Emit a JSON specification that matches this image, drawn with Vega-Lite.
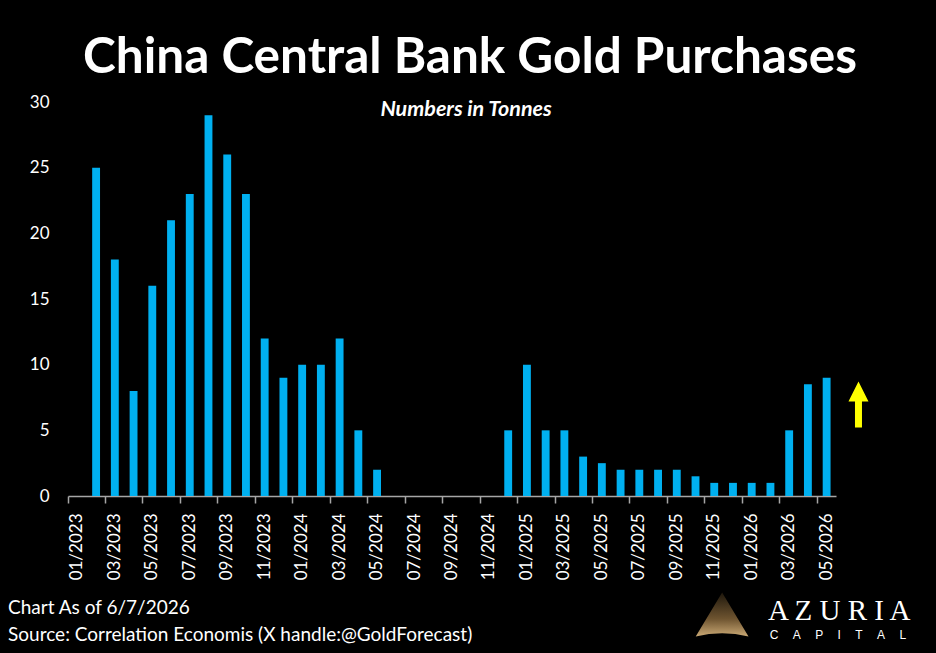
{
  "$schema": "https://vega.github.io/schema/vega-lite/v6.json",
  "autosize": "none",
  "width": 768,
  "height": 394,
  "padding": {"left": 68, "top": 102, "right": 100, "bottom": 157},
  "background": "black",
  "config": {"view": {"stroke": null}, "font": "Lato"},
  "title": {
    "text": "China Central Bank Gold Purchases",
    "font": "Lato",
    "fontSize": 49.5,
    "fontWeight": "bold",
    "color": "white",
    "anchor": "middle",
    "frame": "group",
    "dx": 18,
    "offset": 10
  },
  "datasets": {
    "purchases": [
      {"month": "01/2023", "tonnes": 0},
      {"month": "02/2023", "tonnes": 25},
      {"month": "03/2023", "tonnes": 18},
      {"month": "04/2023", "tonnes": 8},
      {"month": "05/2023", "tonnes": 16},
      {"month": "06/2023", "tonnes": 21},
      {"month": "07/2023", "tonnes": 23},
      {"month": "08/2023", "tonnes": 29},
      {"month": "09/2023", "tonnes": 26},
      {"month": "10/2023", "tonnes": 23},
      {"month": "11/2023", "tonnes": 12},
      {"month": "12/2023", "tonnes": 9},
      {"month": "01/2024", "tonnes": 10},
      {"month": "02/2024", "tonnes": 10},
      {"month": "03/2024", "tonnes": 12},
      {"month": "04/2024", "tonnes": 5},
      {"month": "05/2024", "tonnes": 2},
      {"month": "06/2024", "tonnes": 0},
      {"month": "07/2024", "tonnes": 0},
      {"month": "08/2024", "tonnes": 0},
      {"month": "09/2024", "tonnes": 0},
      {"month": "10/2024", "tonnes": 0},
      {"month": "11/2024", "tonnes": 0},
      {"month": "12/2024", "tonnes": 5},
      {"month": "01/2025", "tonnes": 10},
      {"month": "02/2025", "tonnes": 5},
      {"month": "03/2025", "tonnes": 5},
      {"month": "04/2025", "tonnes": 3},
      {"month": "05/2025", "tonnes": 2.5},
      {"month": "06/2025", "tonnes": 2},
      {"month": "07/2025", "tonnes": 2},
      {"month": "08/2025", "tonnes": 2},
      {"month": "09/2025", "tonnes": 2},
      {"month": "10/2025", "tonnes": 1.5},
      {"month": "11/2025", "tonnes": 1},
      {"month": "12/2025", "tonnes": 1},
      {"month": "01/2026", "tonnes": 1},
      {"month": "02/2026", "tonnes": 1},
      {"month": "03/2026", "tonnes": 5},
      {"month": "04/2026", "tonnes": 8.5},
      {"month": "05/2026", "tonnes": 9}
    ]
  },
  "layer": [
    {
      "data": {"name": "purchases"},
      "mark": {"type": "bar", "color": "#00B0F0", "width": {"band": 0.42}},
      "encoding": {
        "x": {
          "field": "month",
          "type": "ordinal",
          "sort": null,
          "scale": {"paddingInner": 0, "paddingOuter": 0},
          "axis": {
            "orient": "bottom",
            "title": null,
            "values": ["01/2023", "03/2023", "05/2023", "07/2023", "09/2023", "11/2023", "01/2024", "03/2024", "05/2024", "07/2024", "09/2024", "11/2024", "01/2025", "03/2025", "05/2025", "07/2025", "09/2025", "11/2025", "01/2026", "03/2026", "05/2026"],
            "ticks": false,
            "domain": false,
            "labelAngle": -90,
            "labelAlign": "right",
            "labelBaseline": "middle",
            "labelPadding": 17,
            "labelFontSize": 17,
            "labelColor": "white",
            "labelFont": "Lato"
          }
        },
        "y": {
          "field": "tonnes",
          "type": "quantitative",
          "scale": {"domain": [0, 30]},
          "axis": {
            "orient": "left",
            "title": null,
            "values": [0, 5, 10, 15, 20, 25, 30],
            "grid": false,
            "ticks": false,
            "domain": false,
            "labelPadding": 19,
            "labelFontSize": 17,
            "labelColor": "white",
            "labelFont": "Lato"
          }
        }
      }
    },
    {
      "data": {"name": "purchases"},
      "mark": {"type": "bar", "opacity": 0, "width": {"band": 0.42}},
      "encoding": {
        "x": {
          "field": "month",
          "type": "ordinal",
          "sort": null,
          "scale": {"paddingInner": 0, "paddingOuter": 0},
          "axis": {
            "orient": "bottom",
            "title": null,
            "values": ["01/2023", "03/2023", "05/2023", "07/2023", "09/2023", "11/2023", "01/2024", "03/2024", "05/2024", "07/2024", "09/2024", "11/2024", "01/2025", "03/2025", "05/2025", "07/2025", "09/2025", "11/2025", "01/2026", "03/2026", "05/2026"],
            "labels": false,
            "bandPosition": 0,
            "ticks": true,
            "tickSize": 7,
            "tickWidth": 1.5,
            "tickColor": "#A6A6A6",
            "domain": true,
            "domainColor": "#A6A6A6",
            "domainWidth": 1.5
          }
        },
        "y": {
          "field": "tonnes",
          "type": "quantitative",
          "scale": {"domain": [0, 30]},
          "axis": null
        }
      }
    },
    {
      "data": {"values": [{"label": "Numbers in Tonnes", "pos": 21.25, "val": 29.4}]},
      "mark": {"type": "text", "font": "Lato", "fontSize": 21.5, "fontWeight": "bold", "fontStyle": "italic", "color": "white", "align": "center", "baseline": "middle"},
      "encoding": {
        "x": {"field": "pos", "type": "quantitative", "scale": {"domain": [0, 41]}, "axis": null},
        "y": {"field": "val", "type": "quantitative", "scale": {"domain": [0, 30]}, "axis": null},
        "text": {"field": "label"}
      }
    },
    {
      "data": {"values": [
        {"label": "Chart As of 6/7/2026", "pos": -3.2, "val": -8.49},
        {"label": "Source: Correlation Economis (X handle:@GoldForecast)", "pos": -3.2, "val": -10.6}
      ]},
      "mark": {"type": "text", "font": "Lato", "fontSize": 19, "color": "white", "align": "left", "baseline": "middle"},
      "encoding": {
        "x": {"field": "pos", "type": "quantitative", "scale": {"domain": [0, 41]}, "axis": null},
        "y": {"field": "val", "type": "quantitative", "scale": {"domain": [0, 30]}, "axis": null},
        "text": {"field": "label"}
      }
    },
    {
      "data": {"values": [{"label": "A Z U R I A", "pos": 41.17, "val": -8.79}]},
      "mark": {"type": "text", "font": "Liberation Serif", "fontSize": 29, "color": "white", "align": "center", "baseline": "middle"},
      "encoding": {
        "x": {"field": "pos", "type": "quantitative", "scale": {"domain": [0, 41]}, "axis": null},
        "y": {"field": "val", "type": "quantitative", "scale": {"domain": [0, 30]}, "axis": null},
        "text": {"field": "label"}
      }
    },
    {
      "data": {"values": [{"label": "C\u2003\u2009A\u2003\u2009P\u2003\u2009I\u2003\u2009T\u2003\u2009A\u2003\u2009L", "pos": 41.1, "val": -10.6}]},
      "mark": {"type": "text", "font": "Liberation Sans", "fontSize": 12, "color": "white", "align": "center", "baseline": "middle"},
      "encoding": {
        "x": {"field": "pos", "type": "quantitative", "scale": {"domain": [0, 41]}, "axis": null},
        "y": {"field": "val", "type": "quantitative", "scale": {"domain": [0, 30]}, "axis": null},
        "text": {"field": "label"}
      }
    },
    {
      "data": {"values": [{"item": "logo", "pos": 34.92, "val": -9.02}]},
      "mark": {
        "type": "point",
        "filled": true,
        "size": 1936,
        "shape": "M0,-1L-1.2,1Q0,0.7 1.2,1Z",
        "strokeWidth": 0,
        "opacity": 1,
        "color": {
          "gradient": "linear",
          "x1": 0, "y1": 0, "x2": 0, "y2": 1,
          "stops": [
            {"offset": 0, "color": "#1e170c"},
            {"offset": 0.6, "color": "#6e5430"},
            {"offset": 1, "color": "#c9a874"}
          ]
        }
      },
      "encoding": {
        "x": {"field": "pos", "type": "quantitative", "scale": {"domain": [0, 41]}, "axis": null},
        "y": {"field": "val", "type": "quantitative", "scale": {"domain": [0, 30]}, "axis": null}
      }
    },
    {
      "data": {"values": [{"item": "arrow", "pos": 42.2, "val": 6.96}]},
      "mark": {
        "type": "point",
        "filled": true,
        "size": 2116,
        "shape": "M-0.152,1L-0.152,-0.13L-0.435,-0.13L0,-1L0.435,-0.13L0.152,-0.13L0.152,1Z",
        "color": "#FFFF00",
        "opacity": 1,
        "strokeWidth": 0
      },
      "encoding": {
        "x": {"field": "pos", "type": "quantitative", "scale": {"domain": [0, 41]}, "axis": null},
        "y": {"field": "val", "type": "quantitative", "scale": {"domain": [0, 30]}, "axis": null}
      }
    }
  ],
  "resolve": {"scale": {"x": "independent"}, "axis": {"x": "independent", "y": "independent"}}
}
